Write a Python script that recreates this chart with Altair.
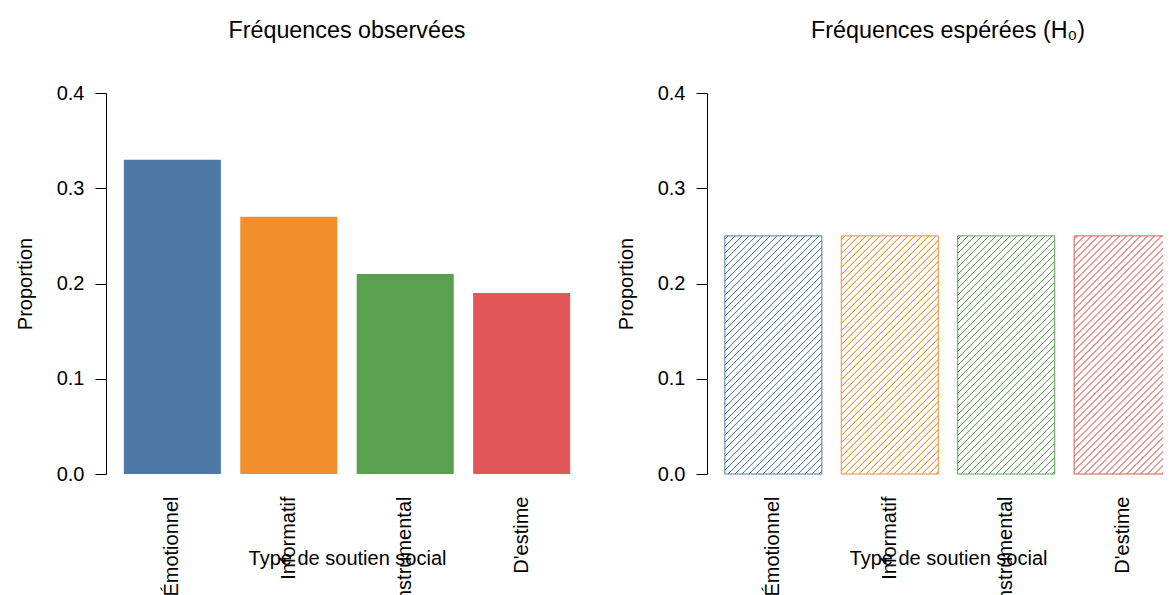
import altair as alt
import pandas as pd

# ---- data -------------------------------------------------------------
categories = ["Émotionnel", "Informatif", "Instrumental", "D'estime"]
observed = [0.33, 0.27, 0.21, 0.19]
expected = [0.25, 0.25, 0.25, 0.25]
colors = ["#4E79A7", "#F28E2B", "#59A14F", "#E15759"]
y_ticks = [0.0, 0.1, 0.2, 0.3, 0.4]
panel_titles = ["Fréquences observées", "Fréquences espérées (H₀)"]
x_title = "Type de soutien social"
y_title = "Proportion"

# ---- layout -------------------------------------------------------------
W, H = 482, 381
PI = 0.2 / 1.2
PO = 0.184 / 1.2
FONT = "Liberation Sans"
Y_MAX = 0.4
SVG_W, SVG_H = 1155, 579
PAD_L, PAD_T = 98, 85

df_obs = pd.DataFrame({"cat": categories, "p": observed})
df_exp = pd.DataFrame({"cat": categories, "p": expected})


def x_enc():
    return alt.X(
        "cat:N",
        sort=categories,
        scale=alt.Scale(domain=categories, paddingInner=PI, paddingOuter=PO),
        axis=alt.Axis(
            title=x_title,
            labelAngle=270,
            labelAlign="right",
            labelBaseline="middle",
            labelPadding=22,
            ticks=False,
            domain=False,
            labelOverlap=False,
            titleY=84,
            titleBaseline="middle",
        ),
    )


def y_enc():
    return alt.Y(
        "p:Q",
        scale=alt.Scale(domain=[0, Y_MAX], nice=False, zero=True),
        axis=alt.Axis(
            title=y_title,
            values=y_ticks,
            format=".1f",
            tickSize=11,
            labelPadding=11,
            titlePadding=21,
            grid=False,
        ),
    )


# hatch fill as a striped linear gradient (45 degree lines, like R's density)
step = W / (len(categories) - PI + 2 * PO)
bar_w = step * (1 - PI)
bar_h = expected[0] / Y_MAX * H


def hatch(color, period=7.0, core=0.09, ramp=0.07):
    w, h = bar_w, bar_h
    total = w + h
    c = w * (w + h) / (w * w + h * h)
    x2, y2 = c, c * h / w
    pt = period / total
    stops = [{"offset": 0.0, "color": "white"}]
    k = 0
    while True:
        base = k * pt
        s1 = base + 0.5 * pt - core / 2 * pt - ramp * pt
        s2 = base + 0.5 * pt - core / 2 * pt
        s3 = base + 0.5 * pt + core / 2 * pt
        s4 = base + 0.5 * pt + core / 2 * pt + ramp * pt
        if s4 >= 1:
            break
        stops += [
            {"offset": round(s1, 5), "color": "white"},
            {"offset": round(s2, 5), "color": color},
            {"offset": round(s3, 5), "color": color},
            {"offset": round(s4, 5), "color": "white"},
        ]
        k += 1
    stops.append({"offset": 1.0, "color": "white"})
    return {"gradient": "linear", "x1": 0, "y1": 0, "x2": x2, "y2": y2, "stops": stops}


left = (
    alt.Chart(df_obs)
    .mark_bar()
    .encode(
        x=x_enc(),
        y=y_enc(),
        color=alt.Color("cat:N", scale=alt.Scale(domain=categories, range=colors), legend=None),
    )
    .properties(width=W, height=H, title=panel_titles[0])
)

layers = []
for cat, col in zip(categories, colors):
    layers.append(
        alt.Chart(df_exp)
        .transform_filter(alt.datum.cat == cat)
        .mark_bar(fill=hatch(col), stroke=col, strokeWidth=1)
        .encode(x=x_enc(), y=y_enc())
    )
right = alt.layer(*layers).properties(width=W, height=H, title=panel_titles[1])

chart = (
    alt.hconcat(left, right, spacing=28)
    .properties(
        autosize=alt.AutoSizeParams(type="none"),
        padding={"left": PAD_L, "top": PAD_T, "right": SVG_W - PAD_L, "bottom": SVG_H - PAD_T},
    )
    .configure_view(stroke=None)
    .configure_axis(
        labelFont=FONT,
        titleFont=FONT,
        labelFontSize=20,
        titleFontSize=20,
        labelColor="black",
        titleColor="black",
        domainColor="black",
        tickColor="black",
        domainWidth=1,
        tickWidth=1,
        titleFontWeight="normal",
    )
    .configure_title(
        font=FONT,
        fontSize=23.3,
        fontWeight="normal",
        color="black",
        baseline="alphabetic",
        offset=40,
        anchor="middle",
    )
)

chart.save("out.html", embed_options={"renderer": "svg", "actions": False})
